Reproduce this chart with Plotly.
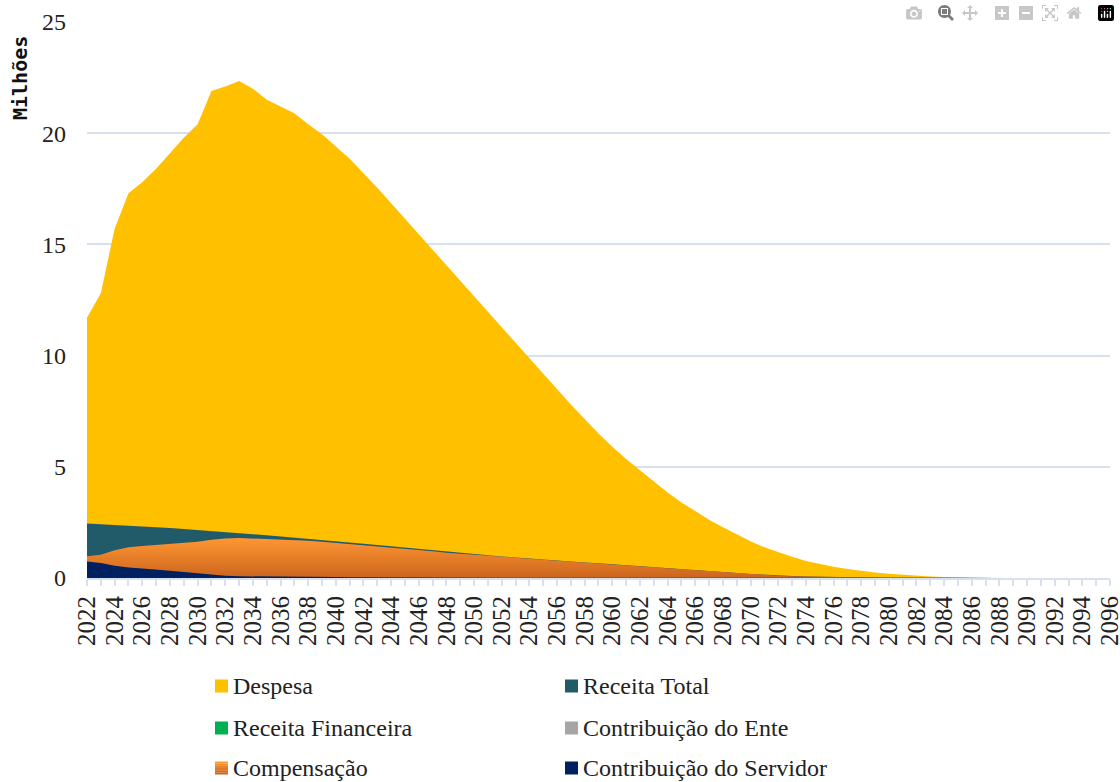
import plotly.graph_objects as go

years = list(range(2022, 2097))

despesa = [11.7, 12.8, 15.7, 17.3, 17.8, 18.4, 19.1, 19.8, 20.4, 21.9,
           22.1, 22.35, 22.0, 21.5, 21.2, 20.9, 20.4, 19.95, 19.4, 18.85,
           18.2, 17.55, 16.85, 16.15, 15.45, 14.75, 14.05, 13.35, 12.65, 11.95,
           11.25, 10.55, 9.85, 9.15, 8.5, 7.8, 7.15, 6.5, 5.9, 5.35,
           4.85, 4.35, 3.85, 3.4, 3.0, 2.62, 2.28, 1.95, 1.65, 1.38,
           1.15, 0.95, 0.77, 0.63, 0.51, 0.41, 0.32, 0.25, 0.19, 0.14,
           0.1, 0.07, 0.045, 0.025, 0.012, 0.005, 0, 0, 0, 0,
           0, 0, 0, 0, 0]

receita_total = [2.45, 2.42, 2.39, 2.35, 2.32, 2.29, 2.25, 2.2, 2.16, 2.11,
                 2.06, 2.02, 1.97, 1.92, 1.87, 1.82, 1.77, 1.72, 1.66, 1.6,
                 1.54, 1.48, 1.42, 1.36, 1.3, 1.24, 1.18, 1.12, 1.07, 1.02,
                 0.97, 0.92, 0.87, 0.83, 0.79, 0.75, 0.7, 0.66, 0.62, 0.58,
                 0.54, 0.5, 0.46, 0.42, 0.38, 0.33, 0.28, 0.23, 0.18, 0.14,
                 0.11, 0.09, 0.07, 0.055, 0.045, 0.035, 0.025, 0.018, 0.012, 0.008,
                 0.005, 0.003, 0.002, 0.001, 0, 0, 0, 0, 0, 0,
                 0, 0, 0, 0, 0]

receita_financeira = [0.05, 0.05, 0.05, 0.05, 0.05, 0.05, 0.05, 0.05, 0.05, 0.05,
                      0.04, 0.04, 0.04, 0.04, 0.04, 0.03, 0.03, 0.03, 0.03, 0.03,
                      0.02, 0.02, 0.02, 0.02, 0.02, 0.02, 0.02, 0.02, 0.02, 0.02,
                      0.01, 0.01, 0.01, 0.01, 0.01, 0.01, 0.01, 0.01, 0.01, 0.01,
                      0, 0, 0, 0, 0, 0, 0, 0, 0, 0,
                      0, 0, 0, 0, 0, 0, 0, 0, 0, 0,
                      0, 0, 0, 0, 0, 0, 0, 0, 0, 0,
                      0, 0, 0, 0, 0]

contribuicao_ente = [0.68, 0.64, 0.54, 0.45, 0.4, 0.37, 0.34, 0.3, 0.26, 0.2,
                     0.14, 0.1, 0.08, 0.06, 0.05, 0.04, 0.04, 0.03, 0.03, 0.03,
                     0.02, 0.02, 0.02, 0.02, 0.02, 0.01, 0.01, 0.01, 0.01, 0.01,
                     0, 0, 0, 0, 0, 0, 0, 0, 0, 0,
                     0, 0, 0, 0, 0, 0, 0, 0, 0, 0,
                     0, 0, 0, 0, 0, 0, 0, 0, 0, 0,
                     0, 0, 0, 0, 0, 0, 0, 0, 0, 0,
                     0, 0, 0, 0, 0]

compensacao = [0.98, 1.05, 1.25, 1.38, 1.44, 1.48, 1.53, 1.58, 1.63, 1.72,
               1.78, 1.8, 1.78, 1.75, 1.72, 1.7, 1.67, 1.63, 1.58, 1.53,
               1.47, 1.42, 1.36, 1.31, 1.25, 1.2, 1.14, 1.09, 1.04, 0.99,
               0.95, 0.9, 0.86, 0.82, 0.78, 0.74, 0.69, 0.65, 0.61, 0.57,
               0.53, 0.49, 0.45, 0.41, 0.37, 0.32, 0.27, 0.22, 0.17, 0.13,
               0.1, 0.08, 0.06, 0.05, 0.04, 0.03, 0.02, 0.015, 0.01, 0.005,
               0, 0, 0, 0, 0, 0, 0, 0, 0, 0,
               0, 0, 0, 0, 0]

contribuicao_servidor = [0.74, 0.68, 0.55, 0.47, 0.43, 0.39, 0.33, 0.27, 0.22, 0.14,
                         0.1, 0.08, 0.07, 0.065, 0.06, 0.055, 0.05, 0.045, 0.04, 0.035,
                         0.03, 0.03, 0.025, 0.025, 0.02, 0.02, 0.02, 0.015, 0.015, 0.01,
                         0.01, 0.01, 0.01, 0.005, 0.005, 0.005, 0, 0, 0, 0,
                         0, 0, 0, 0, 0, 0, 0, 0, 0, 0,
                         0, 0, 0, 0, 0, 0, 0, 0, 0, 0,
                         0, 0, 0, 0, 0, 0, 0, 0, 0, 0,
                         0, 0, 0, 0, 0]

series = [
    ("Despesa", despesa, "#FFC000"),
    ("Receita Total", receita_total, "#215A69"),
    ("Receita Financeira", receita_financeira, "#00B050"),
    ("Contribuição do Ente", contribuicao_ente, "#A5A5A5"),
    ("Compensação", compensacao, "#F08A2E"),
    ("Contribuição do Servidor", contribuicao_servidor, "#002060"),
]

ORANGE_TOP, ORANGE_BOT = "#FF9633", "#CC651D"

# The page's body margin is removed (see post_script), so figure pixels = window pixels.
W, H = 1120, 782
# Plot area in window pixels: x 87..1110, y 22..578
ML, MT = 87, 22
MR = W - 1110
MB = H - 578
PW, PH = W - ML - MR, H - MT - MB


def px_x(px):
    """window pixel x -> paper coordinate"""
    return (px - ML) / PW


def px_y(py):
    """window pixel y -> paper coordinate"""
    return (H - MB - py) / PH


fig = go.Figure()

for name, vals, color in series:
    kw = dict(fillcolor=color)
    if name == "Compensação":
        kw = dict(fillgradient=dict(type="vertical",
                                    colorscale=[[0, ORANGE_BOT], [1, ORANGE_TOP]]))
    fig.add_trace(go.Scatter(
        x=years, y=vals, mode="lines", fill="tozeroy",
        line=dict(width=0, color=color), showlegend=False,
        hoverinfo="x+y+name", name=name, **kw))

# Manual legend (two columns, three rows)
shapes = []
annotations = []
col_x = [215, 565]
row_y = [686, 728, 768]
for i, (name, vals, color) in enumerate(series):
    cx = col_x[i % 2]
    cy = row_y[i // 2]
    sq = 13
    if name == "Compensação":
        stripes = 6
        for k in range(stripes):
            t = k / (stripes - 1)
            r = int(0xFF + (0xCC - 0xFF) * t)
            g = int(0x96 + (0x65 - 0x96) * t)
            b = int(0x33 + (0x1D - 0x33) * t)
            y0 = cy - sq / 2 + k * sq / stripes
            shapes.append(dict(
                type="rect", xref="paper", yref="paper", layer="above",
                x0=px_x(cx), x1=px_x(cx + sq),
                y0=px_y(y0 + sq / stripes), y1=px_y(y0),
                fillcolor=f"rgb({r},{g},{b})", line=dict(width=0)))
    else:
        shapes.append(dict(
            type="rect", xref="paper", yref="paper", layer="above",
            x0=px_x(cx), x1=px_x(cx + sq),
            y0=px_y(cy + sq / 2), y1=px_y(cy - sq / 2),
            fillcolor=color, line=dict(width=0)))
    annotations.append(dict(
        text=name, xref="paper", yref="paper",
        x=px_x(cx + sq + 3), y=px_y(cy), xanchor="left", yanchor="middle",
        showarrow=False,
        font=dict(family="Liberation Serif", size=24, color="#222222")))

annotations.append(dict(
    text="<b>Milhões</b>", textangle=-90, xref="paper", yref="paper",
    x=px_x(20), y=px_y(34), xanchor="center", yanchor="top", showarrow=False,
    font=dict(family="DejaVu Sans Mono", size=20, color="#111111")))

grid_color = "#D6E0EF"

fig.update_layout(
    template="none",
    width=W, height=H,
    margin=dict(l=ML, r=MR, t=MT, b=MB, pad=0),
    paper_bgcolor="white", plot_bgcolor="white",
    font=dict(family="Liberation Serif", size=24, color="#222222"),
    showlegend=False,
    xaxis=dict(
        range=[2022, 2096.001], tickmode="array",
        tickvals=years[::2], ticktext=[str(y) for y in years[::2]],
        tickangle=-90, tickfont=dict(size=25, family="Liberation Serif", color="#222222"),
        ticklabeloverflow="allow",
        showgrid=False, zeroline=False, automargin=False,
        showline=True, linecolor=grid_color, linewidth=2,
        ticks="outside", ticklen=6, tickcolor=grid_color, tickwidth=2,
        minor=dict(tickvals=years, ticks="outside", ticklen=6,
                   tickcolor=grid_color, tickwidth=2, showgrid=False),
    ),
    yaxis=dict(
        range=[0, 25], tickmode="linear", tick0=0, dtick=5,
        tickfont=dict(size=24, family="Liberation Serif", color="#222222"),
        showgrid=True, gridcolor=grid_color, gridwidth=1.5,
        zeroline=False, showline=False, ticks="", ticklabelstandoff=20,
        automargin=False,
    ),
    shapes=shapes,
    annotations=annotations,
)

fig.write_html(
    "out.html",
    post_script="document.body.style.margin='0';document.body.style.overflow='hidden';",
)
